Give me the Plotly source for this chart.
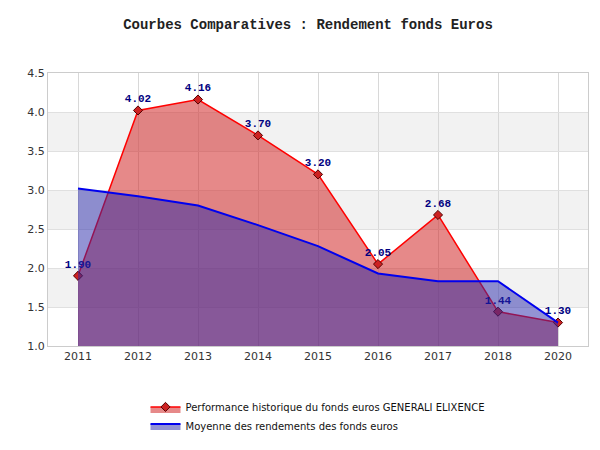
import plotly.graph_objects as go

years = ["2011","2012","2013","2014","2015","2016","2017","2018","2020"]
fonds = [1.90,4.02,4.16,3.70,3.20,2.05,2.68,1.44,1.30]
moyenne = [3.02,2.92,2.80,2.55,2.28,1.93,1.83,1.83,1.30]
labels = ["%.2f" % v for v in fonds]

fig = go.Figure()
fig.add_trace(go.Scatter(x=years, y=fonds, mode="lines+markers+text", fill="tozeroy",
    fillcolor="rgba(210,40,40,0.55)", line=dict(color="#ff0000", width=1.5),
    marker=dict(symbol="diamond", size=7, color="#cc2222", line=dict(color="#550000", width=1)),
    text=labels, textposition="top center",
    textfont=dict(family="Courier New, Liberation Mono, monospace", size=11, color="#000080", weight="bold"),
    name="Performance historique du fonds euros GENERALI ELIXENCE"))
fig.add_trace(go.Scatter(x=years, y=moyenne, mode="lines", fill="tozeroy",
    fillcolor="rgba(40,40,170,0.5)", line=dict(color="#0000ee", width=2),
    name="Moyenne des rendements des fonds euros"))

shapes = []
for lo in [1.5, 2.5, 3.5]:
    shapes.append(dict(type="rect", xref="paper", yref="y", x0=0, x1=1, y0=lo, y1=lo+0.5,
                       fillcolor="#f2f2f2", line_width=0, layer="below"))
fig.update_layout(
    width=600, height=450, plot_bgcolor="white", paper_bgcolor="white",
    margin=dict(l=40, r=20, t=65, b=112, autoexpand=False),
    title=dict(text="Courbes Comparatives : Rendement fonds Euros", x=0.5, y=0.975,
               font=dict(family="Courier New, Liberation Mono, monospace", size=14, color="#222", weight="bold")),
    shapes=shapes, showlegend=True,
    legend=dict(orientation="h", x=0.5, xanchor="center", y=-0.17, yanchor="top",
                font=dict(family="DejaVu Sans", size=10, color="#111"),
                itemwidth=30, entrywidthmode="pixels"),
    font=dict(family="DejaVu Sans", size=11, color="#333"),
)
fig.update_xaxes(type="category", showgrid=True, gridcolor="#d8d8d8", linecolor="#cccccc",
                 showline=True, mirror=True, range=[-0.5, 8.5])
fig.update_yaxes(range=[1.0, 4.5], dtick=0.5, tickformat=".1f", showgrid=True, gridcolor="#e0e0e0",
                 linecolor="#cccccc", showline=True, mirror=True, zeroline=False)
fig.write_html("out.html")
